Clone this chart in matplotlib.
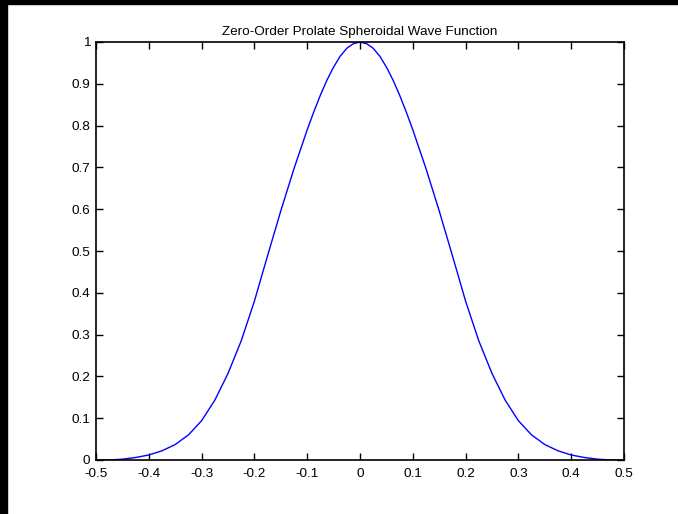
import numpy as np
import matplotlib
matplotlib.use('Agg')
import matplotlib.pyplot as plt
from matplotlib.patches import Rectangle

# values (right half, the curve is symmetric about 0)
x_half = [0.0, 0.0125, 0.025, 0.0375, 0.05, 0.0625, 0.075, 0.0875, 0.1, 0.125,
          0.15, 0.175, 0.2, 0.225, 0.25, 0.275, 0.3, 0.325, 0.35, 0.375,
          0.4, 0.425, 0.45, 0.475, 0.5]
y_half = [1.0, 0.996, 0.985, 0.966, 0.940, 0.909, 0.873, 0.833, 0.790, 0.697,
          0.596, 0.489, 0.380, 0.285, 0.207, 0.143, 0.094, 0.060, 0.037, 0.022,
          0.012, 0.006, 0.002, 0.0, 0.0]

x = np.concatenate((-np.array(x_half[:0:-1]), np.array(x_half)))
y = np.concatenate((np.array(y_half[:0:-1]), np.array(y_half)))

title = 'Zero-Order Prolate Spheroidal Wave Function'
xticks = [-0.5, -0.4, -0.3, -0.2, -0.1, 0, 0.1, 0.2, 0.3, 0.4, 0.5]
xlabels = ['-0.5', '-0.4', '-0.3', '-0.2', '-0.1', '0', '0.1', '0.2', '0.3', '0.4', '0.5']
yticks = [0, 0.1, 0.2, 0.3, 0.4, 0.5, 0.6, 0.7, 0.8, 0.9, 1]
ylabels = ['0', '0.1', '0.2', '0.3', '0.4', '0.5', '0.6', '0.7', '0.8', '0.9', '1']

plt.rcParams['font.family'] = ['Liberation Sans', 'DejaVu Sans']

fig = plt.figure(figsize=(6.78, 5.14), dpi=100)
# black strips at the left and top edges, as in the screenshot
fig.patches.append(Rectangle((0, 0), 7/678., 1, transform=fig.transFigure, color='k', zorder=0))
fig.patches.append(Rectangle((0, 1-4/514.), 1, 4/514., transform=fig.transFigure, color='k', zorder=0))

ax = fig.add_axes([96/678., 54/514., 528/678., 418/514.])
ax.plot(x, y, color=(0, 0, 1), lw=1.0)
ax.set_xlim(-0.5, 0.5)
ax.set_ylim(0, 1)
ax.set_xticks(xticks)
ax.set_xticklabels(xlabels)
ax.set_yticks(yticks)
ax.set_yticklabels(ylabels)
ax.tick_params(direction='in', top=True, right=True, length=5, width=1.0, labelsize=9.7)
ax.tick_params(axis='x', pad=6)
ax.tick_params(axis='y', pad=4)
for s in ax.spines.values():
    s.set_linewidth(1.2)
ax.set_title(title, fontsize=9.7, pad=5)

fig.savefig('out.png', dpi=100)
